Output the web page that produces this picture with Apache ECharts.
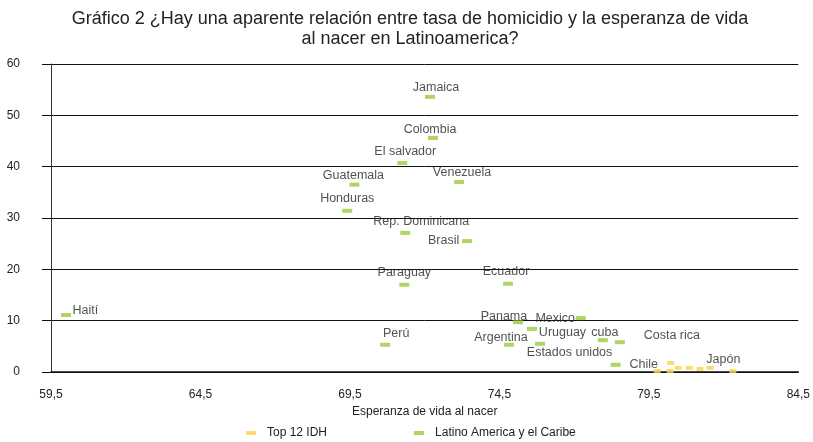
<!DOCTYPE html>
<html>
<head>
<meta charset="utf-8">
<script src="https://cdn.jsdelivr.net/npm/echarts@6/dist/echarts.min.js"></script>
<style>
  html, body { margin: 0; padding: 0; background: #fff; }
  #chart { width: 813px; height: 442px; }
</style>
</head>
<body>
<div id="chart"></div>
<script>
// Latino America y el Caribe
const latamNames = ["Haití", "Jamaica", "Colombia", "El salvador", "Guatemala", "Venezuela",
  "Honduras", "Rep. Dominicana", "Brasil", "Paraguay", "Ecuador", "Perú", "Panama",
  "Argentina", "Mexico", "Uruguay", "Estados unidos", "cuba", "Costa rica", "Chile", "Bolivia"];
const latamLife = [60.0, 72.18, 72.28, 71.25, 69.65, 73.15, 69.41, 71.35, 73.42, 71.32, 74.79,
  70.68, 75.12, 74.82, 77.22, 75.59, 75.86, 77.96, 78.53, 78.39, 64.74];
const latamHomicide = [11.1, 53.6, 45.6, 40.7, 36.5, 37.0, 31.4, 27.1, 25.5, 17.0, 17.2,
  5.3, 9.7, 5.3, 10.5, 8.4, 5.5, 6.2, 5.8, 1.4, 45.2];

// Top 12 IDH (only Japón labelled)
const topNames = ["", "", "", "", "", "", "", "Japón"];
const topLife = [79.78, 80.23, 80.21, 80.48, 80.85, 81.21, 81.55, 82.31];
const topHomicide = [0.2, 1.75, 0.2, 0.8, 0.8, 0.6, 0.8, 0.2];

// label offsets from the marker centre, in pixels
const labelOffset = {
  "Haití": [19.5, -4], "Jamaica": [6, -9], "Colombia": [-3, -8], "El salvador": [3, -12],
  "Guatemala": [-1, -9], "Venezuela": [3, -10], "Honduras": [0, -12],
  "Rep. Dominicana": [16, -11], "Brasil": [-23.5, -1], "Paraguay": [0, -12],
  "Ecuador": [-2, -12], "Perú": [11, -11], "Panama": [-14, -6], "Argentina": [-8, -7],
  "Mexico": [-25.5, 0], "Uruguay": [30.5, 4], "Estados unidos": [29.5, 9],
  "cuba": [2, -8], "Costa rica": [52, -7], "Chile": [28, 0], "Bolivia": [0, 0],
  "Japón": [-9.5, -11]
};

const fmt = v => String(v).replace(".", ",");

function points(names, xs, ys) {
  return names.map((n, i) => {
    const item = { name: n, value: [xs[i], ys[i]] };
    if (n) {
      item.label = { show: true, position: "inside", offset: labelOffset[n] || [0, -12], formatter: n };
    }
    if (n === "Bolivia") item.itemStyle = { opacity: 0 };
    return item;
  });
}

const labelStyle = { color: "#262626", fontSize: 12.5, fontFamily: "Liberation Sans, Arial, sans-serif" };

const chart = echarts.init(document.getElementById("chart"));
chart.setOption({
  animation: false,
  textStyle: { fontFamily: "Liberation Sans, Arial, sans-serif" },
  title: {
    text: "Gráfico 2 ¿Hay una aparente relación entre tasa de homicidio y la esperanza de vida\nal nacer en Latinoamerica?",
    left: 405, top: 4, textAlign: "center",
    textStyle: { fontSize: 18, fontWeight: "normal", color: "#222", lineHeight: 20,
      fontFamily: "Liberation Sans, Arial, sans-serif" }
  },
  legend: {
    data: ["Top 12 IDH", "Latino America y el Caribe"],
    left: 241, top: 422, icon: "rect", itemWidth: 10, itemHeight: 4, itemGap: 87,
    textStyle: { color: "#222", fontSize: 12, padding: [0, 0, 0, 6] }
  },
  grid: { left: 51, right: 13, top: 64, bottom: 70 },
  xAxis: {
    type: "value", min: 59.5, max: 84.5, interval: 5,
    name: "Esperanza de vida al nacer", nameLocation: "middle", nameGap: 32,
    nameTextStyle: { color: "#222", fontSize: 12 },
    axisLine: { show: true, onZero: false, lineStyle: { color: "#111", width: 1.5 } },
    axisTick: { show: false },
    splitLine: { show: false },
    axisLabel: { color: "#222", fontSize: 12, margin: 17, formatter: fmt }
  },
  yAxis: {
    type: "value", min: 0, max: 60, interval: 10,
    axisLine: { show: true, lineStyle: { color: "#333" } },
    axisTick: { show: true, inside: false, length: 9, lineStyle: { color: "#111" } },
    splitLine: { show: true, lineStyle: { color: "#111", width: 1 } },
    axisLabel: { color: "#222", fontSize: 12, margin: 31 }
  },
  series: [
    {
      name: "Top 12 IDH", type: "scatter", symbol: "rect", symbolSize: [7, 4],
      itemStyle: { color: "#ffd24a" }, label: labelStyle,
      data: points(topNames, topLife, topHomicide)
    },
    {
      name: "Latino America y el Caribe", type: "scatter", symbol: "rect", symbolSize: [10, 4],
      itemStyle: { color: "#9bcb3b" }, label: labelStyle,
      data: points(latamNames, latamLife, latamHomicide)
    }
  ]
});
</script>
</body>
</html>
